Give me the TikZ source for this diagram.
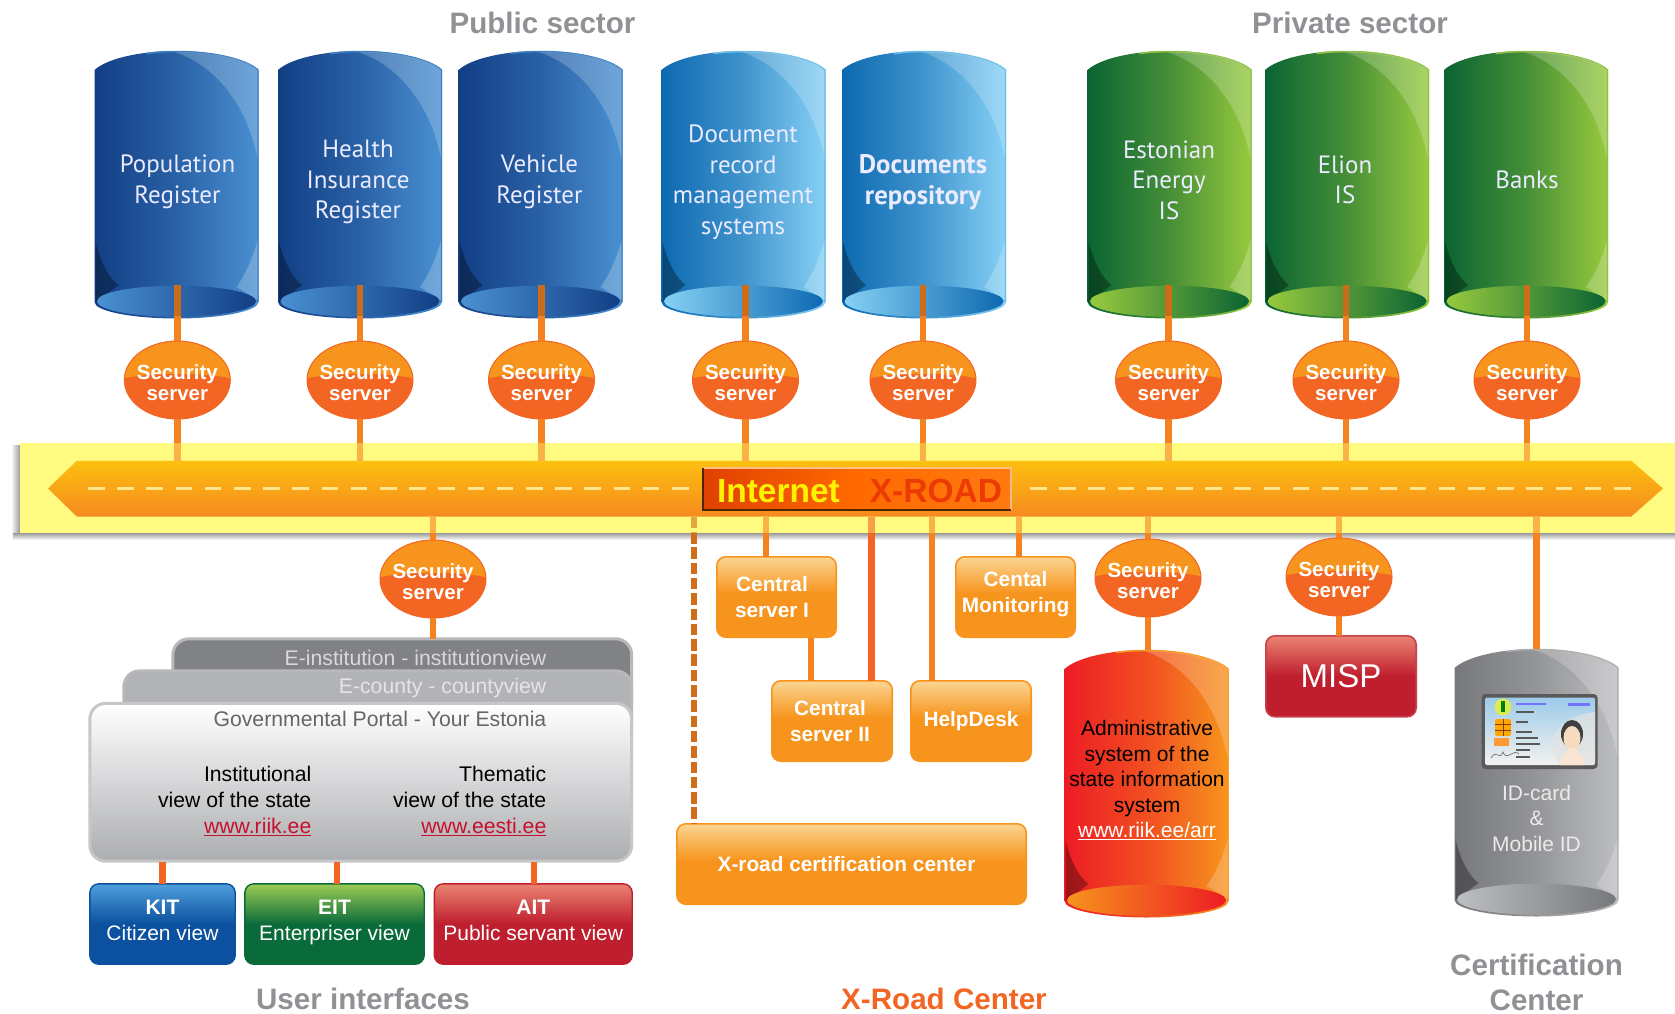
\documentclass[tikz,border=0pt]{standalone}
\usepackage{fontspec}
\setmainfont{Liberation Sans}
\newfontfamily\humanist{PT Sans}
\usetikzlibrary{shapes.geometric,calc}
\definecolor{FDC010col}{HTML}{FDC010}\definecolor{F58A1Fcol}{HTML}{F58A1F}
\definecolor{DA3C00col}{HTML}{E04000}\definecolor{FF8A20col}{HTML}{FF7A10}
\definecolor{FF6A00col}{HTML}{FF6A00}\definecolor{FF3A00col}{HTML}{EC3A04}
\definecolor{9CCBEAcol}{HTML}{9CCBEA}\definecolor{F3F2EEcol}{HTML}{F3F2EE}
\definecolor{dashcol}{HTML}{FFE58C}\definecolor{bandcol}{HTML}{FFFA80}
\definecolor{instcol}{HTML}{808285}\definecolor{countycol}{HTML}{B1B3B6}
\definecolor{oTop}{HTML}{FBD592}\definecolor{oBot}{HTML}{F7941D}
\definecolor{bTop}{HTML}{4F9EDB}\definecolor{bBot}{HTML}{0B519F}
\definecolor{gTop}{HTML}{9CCB54}\definecolor{gBot}{HTML}{0A6B3A}
\definecolor{rTop}{HTML}{EA8472}\definecolor{rBot}{HTML}{BE1E2D}
\definecolor{pTop}{HTML}{FFFFFF}\definecolor{pBot}{HTML}{ACADB0}
\definecolor{conn}{HTML}{F58220}\definecolor{connR}{HTML}{F26522}
\definecolor{headgray}{HTML}{8F9194}
\definecolor{linkred}{HTML}{C8102E}
\pgfdeclareverticalshading{shO}{100bp}{color(0bp)=(oBot);color(25bp)=(oBot);color(52bp)=(oBot);color(75bp)=(oTop);color(100bp)=(oTop)}
\pgfdeclareverticalshading{shB}{100bp}{color(0bp)=(bBot);color(25bp)=(bBot);color(50bp)=(bBot);color(75bp)=(bTop);color(100bp)=(bTop)}
\pgfdeclareverticalshading{shG}{100bp}{color(0bp)=(gBot);color(25bp)=(gBot);color(50bp)=(gBot);color(75bp)=(gTop);color(100bp)=(gTop)}
\pgfdeclareverticalshading{shR}{100bp}{color(0bp)=(rBot);color(25bp)=(rBot);color(50bp)=(rBot);color(75bp)=(rTop);color(100bp)=(rTop)}
\pgfdeclareverticalshading{shP}{100bp}{color(0bp)=(pBot);color(25bp)=(pBot);color(75bp)=(pTop);color(100bp)=(pTop)}
\tikzset{
  box/.style={inner sep=0pt,outer sep=0pt,rounded corners=9pt,align=center},
  orangebox/.style={box,shade,shading=shO,draw=oBot,line width=1.6pt,text=white,
     font=\bfseries\fontsize{20.8}{26}\selectfont},
  uibox/.style={box,shade,line width=1.4pt,text=white,font=\fontsize{21}{26.5}\selectfont},
  kitbox/.style={uibox,shading=shB,draw=bBot},
  eitbox/.style={uibox,shading=shG,draw=gBot},
  aitbox/.style={uibox,shading=shR,draw=rBot},
  mispbox/.style={box,shade,shading=shR,draw=rBot!85!white,line width=1.6pt,text=white,font=\fontsize{33}{38}\selectfont},
  portalback/.style={box,rounded corners=16pt,line width=3pt},
  secsrv/.style={ellipse,inner sep=0pt,outer sep=0pt,minimum width=106pt,minimum height=78pt,
     fill=connR,draw=connR,line width=1pt,
     path picture={\begin{scope}[shift={(path picture bounding box.center)}]
        \fill[oBot] (-56,-1) .. controls (-30,-8) and (30,-8) .. (56,-1) -- (56,-45) -- (-56,-45) -- cycle;
        \end{scope}}},
  sectext/.style={text=white,align=center,inner sep=0pt,font=\bfseries\fontsize{20.5}{21}\selectfont},
  cyltext/.style={text=white!92!blue,align=center,inner sep=0pt,font=\humanist\fontsize{25}{30.5}\selectfont},
  head/.style={text=headgray,align=center,inner sep=0pt,font=\bfseries\fontsize{29.6}{35}\selectfont},
  portaltext/.style={align=right,inner sep=0pt,font=\fontsize{21.2}{25.7}\selectfont},
  wire/.style={draw=conn,line width=6.5pt},
  wireR/.style={draw=connR,line width=6.5pt},
  wiredash/.style={draw=conn!85!black,line width=6.5pt,dash pattern=on 11.5pt off 3.8pt},
  roaddash/.style={draw=dashcol,line width=3pt,dash pattern=on 16.5pt off 12.7pt},
}
% style, name, x1, y1, x2, y2, text
\newcommand\bx[7]{\node[#1,minimum width={#5-#3-1.6},minimum height={#6-#4-1.6},anchor=north west] (#2) at (#3+.8,#4+.8) {#7};}
\newcommand\secnode[3]{\node[secsrv] (#1) at (#2,#3) {};\node[sectext,yshift=-3pt] (#1t) at (#1) {Security\\server};}
% name, cx, top y, left, right, rim, ellipse left, ellipse right
\newcommand\cyl[8]{%
\begin{scope}[shift={(#2,#3)}]
  \path[left color=#4,right color=#5,middle color=#4!58!#5]
    (-82,19) .. controls (-70,8) and (-38,0) .. (0,0) .. controls (38,0) and (70,8) .. (82,19)
    -- (82,251) .. controls (82,260) and (45,267.5) .. (0,267.5) .. controls (-45,267.5) and (-82,260) .. (-82,251) -- cycle;
  \draw[#6,line width=1.6pt] (-30,2.6) .. controls (-20,1) and (-10,.6) .. (0,.6) .. controls (38,.6) and (70,8.6) .. (81.4,19) -- (81.4,251);
  \begin{scope}
    \clip (-81,19) .. controls (-70,8) and (-38,1) .. (0,1) .. controls (38,1) and (70,8) .. (81,19)
    -- (81,251) -- (-81,251) -- cycle;
    \fill[white,opacity=.2] (-2,1) .. controls (42,15) and (74,60) .. (82,114) -- (86,114) -- (86,-4) -- (-2,-4) -- cycle;
    \fill[white,opacity=.22] (82,186) .. controls (77,205) and (70,222) .. (60,236) -- (86,252) -- (86,186) -- cycle;
    \fill[black,opacity=.32] (-82,186) .. controls (-78,205) and (-70,225) .. (-58,234) -- (-82,252) -- cycle;
  \end{scope}
  \path[left color=#7,right color=#8] (0,250.2) ellipse [x radius=79.5,y radius=15.5];
  \coordinate (#1) at (0,234);
  \coordinate (#1top) at (0,0);
\end{scope}}
\newcommand\blue[2]{\cyl{#1}{#2}{51}{B1}{B2}{B3}{B2}{B1}}
\definecolor{B1}{HTML}{123E85}\definecolor{B2}{HTML}{4A91D2}\definecolor{B3}{HTML}{3D7FC2}
\definecolor{C1}{HTML}{0D69B0}\definecolor{C2}{HTML}{86D0F5}\definecolor{C3}{HTML}{6CBDE8}
\definecolor{G1}{HTML}{0A6432}\definecolor{G2}{HTML}{98CA3E}\definecolor{G3}{HTML}{8CBF44}
\definecolor{R1}{HTML}{ED1C24}\definecolor{R2}{HTML}{F7941D}
\definecolor{Y1}{HTML}{77787B}\definecolor{Y2}{HTML}{BDBEC0}\definecolor{Y3}{HTML}{A8A9AB}
\begin{document}
\begin{tikzpicture}[x=1pt,y=-1pt]
\useasboundingbox (0,0) rectangle (1675,1014);
% band
\shade[left color=white,right color=gray!80] (11,445) rectangle (20,538);
\shade[top color=gray!80,bottom color=white] (13,533) rectangle (1675,540);
\fill[bandcol] (20,443) rectangle (1675,533);
% arrow
\path[top color=FDC010col,bottom color=F58A1Fcol] (48,488.5) -- (77,460.5) -- (1631,460.5) -- (1663,488.5) -- (1631,516.7) -- (77,516.7) -- cycle;
\node[inner sep=0pt,outer sep=0pt,minimum width=1615pt,minimum height=56pt] (road) at (855.5,488.5) {};
\draw[roaddash] (88,488.5) -- (690,488.5);
\draw[roaddash] (1030,488.5) -- (1632,488.5);
% cylinders
\blue{cyl1}{176.5}
\blue{cyl2}{360}
\blue{cyl3}{540.5}
\cyl{cyl4}{743.5}{51}{C1}{C2}{C3}{C2}{C1}
\cyl{cyl5}{924}{51}{C1}{C2}{C3}{C2}{C1}
\cyl{cyl6}{1169.5}{51}{G1}{G2}{G3}{G2}{G1}
\cyl{cyl7}{1347}{51}{G1}{G2}{G3}{G2}{G1}
\cyl{cyl8}{1526}{51}{G1}{G2}{G3}{G2}{G1}
\cyl{cylA}{1146.5}{650}{R1}{R2}{R2}{R2}{R1}
\cyl{cylC}{1536.5}{649}{Y1}{Y2}{Y3}{Y2}{Y1}
% cylinder texts
\node[cyltext] (t1) at (177.5,182) {Population\\Register};
\node[cyltext] (t2) at (358,182) {Health\\Insurance\\Register};
\node[cyltext] (t3) at (539.5,182) {Vehicle\\Register};
\node[cyltext] (t4) at (743,182) {Document\\record\\management\\systems};
\node[cyltext,font=\humanist\bfseries\fontsize{26.8}{30.5}\selectfont] (t5) at (923,182) {Documents\\repository};
\node[cyltext] (t6) at (1169,180) {Estonian\\Energy\\IS};
\node[cyltext] (t7) at (1345,180) {Elion\\IS};
\node[cyltext] (t8) at (1527,180) {Banks};
% security servers
\secnode{s1}{177.3}{380}
\secnode{s2}{360}{380}
\secnode{s3}{541.5}{380}
\secnode{s4}{745.5}{380}
\secnode{s5}{923}{380}
\secnode{s6}{1168.5}{380}
\secnode{s7}{1346}{380}
\secnode{s8}{1527}{380}
\secnode{sU}{433}{579}
\secnode{sA}{1148}{578}
\secnode{sM}{1339}{577}
% top connectors
\foreach \i in {1,...,8}{
  \draw[wire] (s\i.north) -- (s\i.north |- cyl\i);
  \draw[wire] (s\i.south) -- (s\i.south |- road.north);
  \fill[black,opacity=.17] ($(s\i.north |- cyl\i)+(-3.25,0)$) rectangle ($(s\i.north |- cyl\i)+(3.25,31)$);
}
% orange boxes
\bx{orangebox}{cs1}{716}{556}{837}{638}{\hspace*{-9pt}Central\\\hspace*{-9pt}server I}
\bx{orangebox}{cs2}{771}{680}{893}{762}{\hspace*{-4pt}Central\\\hspace*{-4pt}server II}
\bx{orangebox}{help}{910}{680}{1032}{762}{\raisebox{4pt}{HelpDesk}}
\bx{orangebox}{mon}{955}{556}{1076}{638}{Cental\\Monitoring\rule[-10pt]{0pt}{10pt}}
\bx{orangebox}{cert}{676}{823}{1027}{905}{\hspace*{-10pt}\raisebox{-4pt}{X-road certification center}}
\bx{mispbox}{misp}{1265}{635}{1417}{717.5}{\raisebox{-1pt}{MISP}}
% portal stack
\bx{portalback,fill=instcol,draw=gray!55}{inst}{172}{638}{632.5}{720}{}
\bx{portalback,fill=countycol,draw=black!28}{county}{123}{670}{632.5}{750}{}
\bx{portalback,shade,shading=shP,draw=black!22}{portal}{89}{702.5}{632.5}{862}{}
\node[portaltext,text=white!85!black,anchor=east] (tinst) at (546.5,658) {E-institution - institutionview};
\node[portaltext,text=white!90!black,anchor=east] (tcounty) at (546.5,688) {E-county - countyview};
\node[portaltext,text=black!60,anchor=east] (tportal) at (546.5,719) {Governmental Portal - Your Estonia};
\node[portaltext,anchor=east] (tinstv) at (311.5,801) {Institutional\\view of the state\\\textcolor{linkred}{\underline{www.riik.ee}}};
\node[portaltext,anchor=east] (tthem) at (546.5,801) {Thematic\\view of the state\\\textcolor{linkred}{\underline{www.eesti.ee}}};
% user interface boxes
\bx{kitbox}{kit}{89}{883}{236}{965}{\textbf{KIT}\\Citizen view\rule[-7pt]{0pt}{7pt}}
\bx{eitbox}{eit}{244}{883}{425}{965}{\textbf{EIT}\\Enterpriser view\rule[-7pt]{0pt}{7pt}}
\bx{aitbox}{ait}{433.5}{883}{633}{965}{\textbf{AIT}\\Public servant view\rule[-7pt]{0pt}{7pt}}
% lower connectors
\draw[wire] (road.south -| sU) -- (sU.north);
\draw[wire] (sU.south) -- (sU.south |- inst.north);
\coordinate (p1) at (162.6,862);\coordinate (p2) at (337,862);\coordinate (p3) at (534,862);
\draw[wireR] (p1) -- (p1 |- kit.north);
\draw[wireR] (p2) -- (p2 |- eit.north);
\draw[wireR] (p3) -- (p3 |- ait.north);
\coordinate (c1) at (766,516.7);\coordinate (c2) at (871.7,516.7);\coordinate (c3) at (932,516.7);\coordinate (c4) at (1019,516.7);\coordinate (c5) at (811,638);\coordinate (c6) at (694,516.7);\coordinate (c7) at (1536.5,516.7);
\draw[wire] (c1) -- (c1 |- cs1.north);
\draw[wireR] (c2) -- (c2 |- cs2.north);
\draw[wire] (c3) -- (c3 |- help.north);
\draw[wire] (c4) -- (c4 |- mon.north);
\draw[wire] (c5) -- (c5 |- cs2.north);
\draw[wiredash] (c6) -- (c6 |- cert.north);
\draw[wire] (road.south -| sA) -- (sA.north);
\draw[wire] (sA.south) -- (sA.south |- cylAtop);
\draw[wire] (road.south -| sM) -- (sM.north);
\draw[wire] (sM.south) -- (sM.south |- misp.north);
\draw[wire] (c7) -- (c7 |- cylCtop);
% connectors seen through the band's glow
\fill[bandcol,opacity=.4] (20,443) rectangle (1675,460.5);
\fill[bandcol,opacity=.4] (20,516.7) rectangle (1675,533);
% Internet box
\path[left color=DA3C00col,right color=FF8A20col,middle color=FF6A00col] (703,468) rectangle (1011,510);
\draw[line width=1.5pt,draw=orange!50!white] (703,468) -- (1011,468) -- (1011,510);
\draw[line width=2.4pt,draw=black!70!orange] (703,468) -- (703,510) -- (1011,510);
\node[inner sep=0pt,font=\bfseries\fontsize{33.5}{36}\selectfont] (inet) at (859.5,491) {\textcolor{yellow}{Internet}\hspace{30pt}\textcolor{FF3A00col}{X-ROAD}};
% admin cylinder text
\node[align=center,inner sep=0pt,font=\fontsize{21}{25.5}\selectfont] (tadm) at (1147,780) {Administrative\\system of the\\state information\\system\\\textcolor{white}{\underline{www.riik.ee/arr}}};
% ID card
\node[box,rounded corners=4pt,fill=black!65,minimum width=116pt,minimum height=75pt,anchor=north west] (card) at (1481.6,694) {};
\begin{scope}
  \clip[rounded corners=2pt] (1485,697.5) rectangle (1595,765);
  \path[top color=9CCBEAcol,bottom color=F3F2EEcol] (1485,697.5) rectangle (1595,765);
  \fill[white!70!gray!60!F3F2EEcol,opacity=.7] (1560,765) .. controls (1540,735) and (1565,715) .. (1595,712) -- (1595,765) -- cycle;
\end{scope}
\fill[yellow!80!green!70!white] (1503,707) circle [radius=8.5];
\fill[black!50!green] (1501,701) rectangle (1505,712);
\fill[orange!70!yellow,rounded corners=2pt] (1495,719) rectangle (1511,736);
\draw[black!50!orange,line width=.5pt] (1495,724) -- (1511,724) (1495,730) -- (1511,730) (1503,719) -- (1503,736);
\fill[orange!80!white] (1494,738) rectangle (1509,746);
\foreach \yy/\ww in {711/18,721/12,731/16,737/22,743/24,749/14,756/14}{\fill[black!65] (1516,\yy) rectangle ++(\ww,1.8);}
\foreach \yy/\ww in {703/30}{\fill[blue!55!white] (1516,\yy) rectangle ++(\ww,2);}
\fill[blue!55!white] (1568,703) rectangle (1590,706);
\draw[black!55,line width=.7pt] (1491,758) .. controls (1497,748) and (1499,762) .. (1503,752) .. controls (1506,762) and (1514,748) .. (1519,754);
\fill[black!75] (1572,734) ellipse [x radius=11,y radius=14];
\fill[black!12!orange!25!white] (1572,738) ellipse [x radius=8.5,y radius=12];
\fill[black!12!orange!18!white] (1560,765) .. controls (1563,752) and (1568,752) .. (1570,748) -- (1575,748) .. controls (1577,752) and (1583,755) .. (1585,765) -- cycle;
% grey cylinder text
\node[align=center,inner sep=0pt,text=white!92!black,font=\fontsize{21}{25.5}\selectfont] (tid) at (1536.5,818) {ID-card\\\&\\Mobile ID};
% headings
\node[head] (hpub) at (542.5,22.5) {Public sector};
\node[head] (hpriv) at (1350,22.5) {Private sector};
\node[head] (hui) at (363,999) {User interfaces};
\node[head,text=connR] (hxr) at (944,999) {X-Road Center};
\node[head] (hcc) at (1536.5,982) {Certification\\Center};
\end{tikzpicture}
\end{document}
